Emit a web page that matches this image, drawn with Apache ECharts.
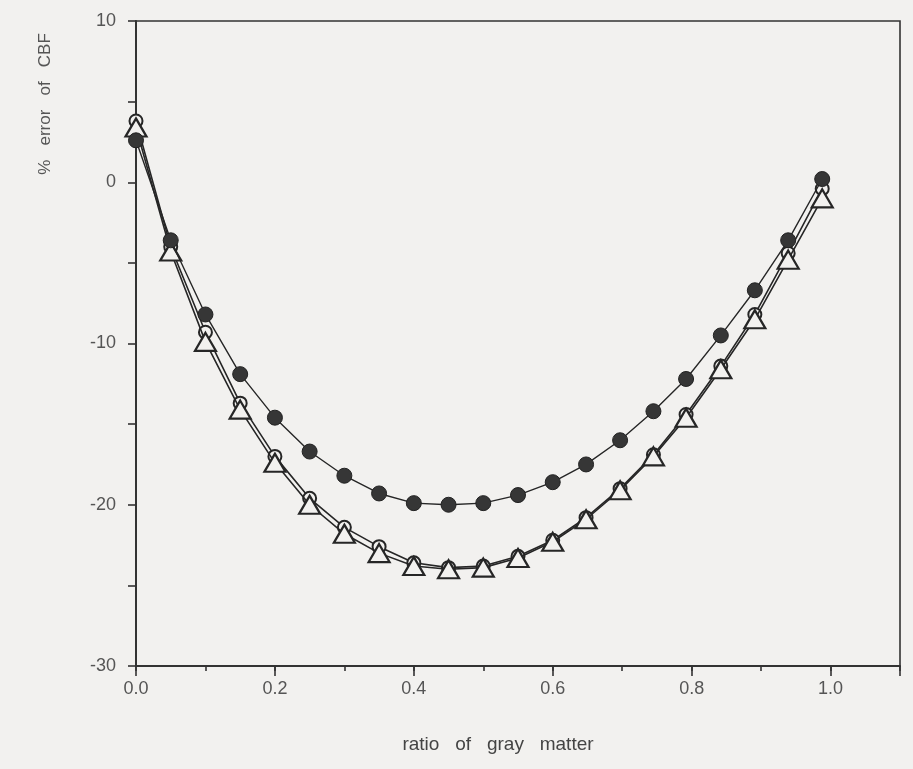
<!DOCTYPE html>
<html>
<head>
<meta charset="utf-8">
<script src="https://cdn.jsdelivr.net/npm/echarts@6/dist/echarts.min.js"></script>
<style>
html,body{margin:0;padding:0;background:#f2f1ef;}
#chart{width:913px;height:769px;}
</style>
</head>
<body>
<div id="chart"></div>
<script>
// ratio of gray matter (x positions of the points)
var ratio = [0, 0.05, 0.1, 0.15, 0.2, 0.25, 0.3, 0.35, 0.4, 0.45, 0.5, 0.55, 0.6, 0.648, 0.697, 0.745, 0.792, 0.842, 0.891, 0.939, 0.988];
// % error of CBF — filled circles
var filledCircle = [2.6, -3.6, -8.2, -11.9, -14.6, -16.7, -18.2, -19.3, -19.9, -20.0, -19.9, -19.4, -18.6, -17.5, -16.0, -14.2, -12.2, -9.5, -6.7, -3.6, 0.2];
// open circles
var openCircle = [3.8, -4.0, -9.3, -13.7, -17.0, -19.6, -21.4, -22.6, -23.6, -23.9, -23.8, -23.2, -22.2, -20.8, -19.0, -16.9, -14.4, -11.4, -8.2, -4.4, -0.4];
// open triangles
var openTriangle = [3.4, -4.3, -9.9, -14.1, -17.4, -20.0, -21.8, -23.0, -23.8, -24.0, -23.9, -23.3, -22.3, -20.9, -19.1, -17.0, -14.6, -11.6, -8.5, -4.8, -1.0];
// axis tick labels
var xTickLabels = ['0.0', '0.2', '0.4', '0.6', '0.8', '1.0'];
var yTickLabels = ['10', '0', '-10', '-20', '-30'];
var xTitle = 'ratio   of   gray   matter';
var yTitle = '%   error   of   CBF';

function pairs(ys){ return ratio.map(function(x,i){ return [x, ys[i]]; }); }

var bg = '#f2f1ef';
var ink = '#262626';
var chart = echarts.init(document.getElementById('chart'));
chart.setOption({
  animation: false,
  backgroundColor: bg,
  grid: {left: 136, right: 13, top: 21, bottom: 103, show: true, borderColor: '#333', borderWidth: 1.6, backgroundColor: 'transparent'},
  xAxis: [
    {type: 'value', min: 0, max: 1.1, interval: 0.1,
     axisLine: {show: true, onZero: false, lineStyle: {color: '#333', width: 2}},
     axisTick: {show: true, length: 5, lineStyle: {color: '#333', width: 1.6}},
     axisLabel: {show: false}, splitLine: {show: false}},
    {type: 'value', min: 0, max: 1.1, interval: 0.2, position: 'bottom',
     axisLine: {show: false, onZero: false},
     axisTick: {show: true, length: 10, lineStyle: {color: '#333', width: 1.6}},
     axisLabel: {show: true, margin: 14, color: '#555', fontSize: 18, fontFamily: 'Liberation Sans',
       formatter: function(v){ var idx = Math.round(v / 0.2); return (Math.abs(v - idx * 0.2) < 1e-6 && xTickLabels[idx]) ? xTickLabels[idx] : ''; }},
     splitLine: {show: false}}
  ],
  yAxis: {type: 'value', min: -30, max: 10, interval: 5,
    axisLine: {show: true, onZero: false, lineStyle: {color: '#333', width: 2}},
    axisTick: {show: true, length: 8, lineStyle: {color: '#333', width: 1.6}},
    axisLabel: {margin: 20, color: '#555', fontSize: 18, fontFamily: 'Liberation Sans',
      formatter: function(v){ if (v % 10 !== 0) return ''; return yTickLabels[(10 - v) / 10]; }},
    splitLine: {show: false}},
  graphic: [
    {type: 'text', x: 45, y: 104, rotation: Math.PI / 2,
     style: {text: yTitle, fill: '#555', fontSize: 17, fontFamily: 'Liberation Sans',
       align: 'center', verticalAlign: 'middle'}},
    {type: 'text', x: 498, y: 745,
     style: {text: xTitle, fill: '#444', fontSize: 19, fontFamily: 'Liberation Sans',
       align: 'center', verticalAlign: 'middle'}}
  ],
  series: [
    {type: 'line', name: 'open circle', data: pairs(openCircle), xAxisIndex: 0,
     symbol: 'circle', symbolSize: 13, showSymbol: true,
     lineStyle: {color: ink, width: 1.6},
     itemStyle: {color: bg, borderColor: ink, borderWidth: 2}, z: 2},
    {type: 'line', name: 'open triangle', data: pairs(openTriangle), xAxisIndex: 0,
     symbol: 'triangle', symbolSize: [21, 18], showSymbol: true,
     lineStyle: {color: ink, width: 1.6},
     itemStyle: {color: bg, borderColor: ink, borderWidth: 2.2}, z: 3},
    {type: 'line', name: 'filled circle', data: pairs(filledCircle), xAxisIndex: 0,
     symbol: 'circle', symbolSize: 15, showSymbol: true,
     lineStyle: {color: ink, width: 1.4},
     itemStyle: {color: '#363636', borderColor: '#222', borderWidth: 1}, z: 4}
  ]
});
</script>
</body>
</html>
